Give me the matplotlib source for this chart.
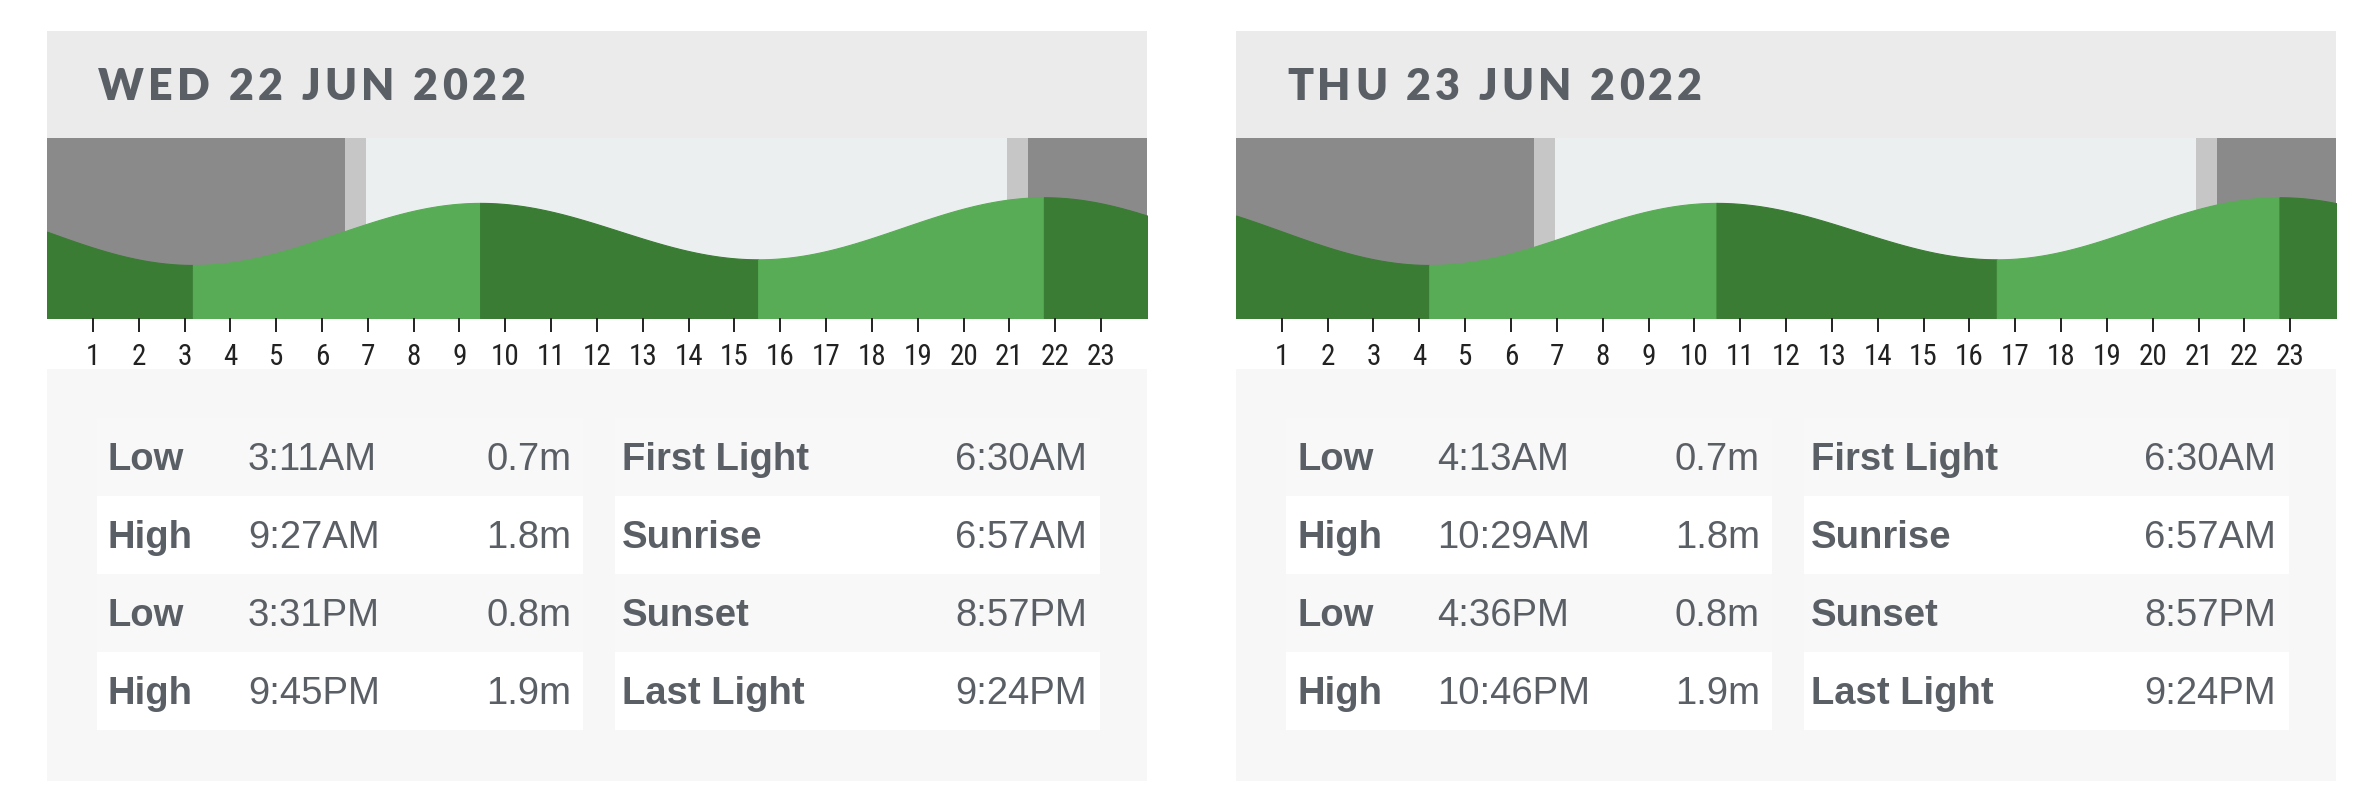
import matplotlib
matplotlib.use("Agg")
import matplotlib.pyplot as plt
from matplotlib.patches import Rectangle
from matplotlib import font_manager
import numpy as np

# -- Donnees ---------------------------------------------------------------

DAYS = ["WED 22 JUN 2022", "THU 23 JUN 2022"]

TIDE_TYPES = ["Low", "High", "Low", "High"]
TIDE_TIMES = [
    ["3:11AM", "9:27AM", "3:31PM", "9:45PM"],
    ["4:13AM", "10:29AM", "4:36PM", "10:46PM"],
]
TIDE_HEIGHTS = [
    [0.7, 1.8, 0.8, 1.9],
    [0.7, 1.8, 0.8, 1.9],
]

# marees hors cadre (estimees) : derniere pleine mer de la veille, premiere basse mer du lendemain
PREV_HIGH_TIME = "8:45PM"
PREV_HIGH_HEIGHT = 1.9
NEXT_LOW_TIME = "5:15AM"
NEXT_LOW_HEIGHT = 0.7

SUN_LABELS = ["First Light", "Sunrise", "Sunset", "Last Light"]
SUN_TIMES = [
    ["6:30AM", "6:57AM", "8:57PM", "9:24PM"],
    ["6:30AM", "6:57AM", "8:57PM", "9:24PM"],
]

HOURS = list(range(1, 24))

# -- Couleurs / mise en page ------------------------------------------------

C_HEADER = "#ebebeb"
C_TABLE_BG = "#f7f7f7"
C_ROW_ALT = "#ffffff"
C_NIGHT = "#8a8a8a"
C_TWILIGHT = "#c6c6c6"
C_DAY = "#eceff0"
C_RISING = "#58ac55"
C_FALLING = "#3a7c34"
C_TEXT = "#5a5f66"
C_TICK = "#222222"

W, H = 2367, 810
PANEL_X = [47, 1236]
PANEL_W = 1100
TITLE_W = [428, 415]


def to_hours(s):
    t, ampm = s[:-2], s[-2:]
    h, m = [int(v) for v in t.split(":")]
    if ampm == "PM" and h != 12:
        h += 12
    if ampm == "AM" and h == 12:
        h = 0
    return h + m / 60.0


def tide_between(t0, t1, h0, h1, x):
    # interpolation en cosinus entre deux extremes
    f = (x - t0) / (t1 - t0)
    return (h0 + h1) / 2 + (h0 - h1) / 2 * np.cos(np.pi * f)


def weight_num(w):
    if isinstance(w, (int, float)):
        return w
    return {"bold": 700, "heavy": 800, "black": 900, "extra bold": 800,
            "semibold": 600, "demibold": 600}.get(str(w).lower(), 400)


fonts = font_manager.fontManager.ttflist
names = {f.name for f in fonts}
bold_names = {f.name for f in fonts if weight_num(f.weight) >= 700}

tick_family = "Liberation Sans"
for cand in ["Liberation Sans Narrow", "DejaVu Sans Condensed", "Roboto Condensed"]:
    if cand in names:
        tick_family = cand
        break
title_family = "DejaVu Sans"
for cand in ["Montserrat", "Lato", "Open Sans"]:
    if cand in bold_names:
        title_family = cand
        break
table_family = "Liberation Sans"

fig = plt.figure(figsize=(W / 100, H / 100), dpi=100)
fig.patch.set_facecolor("white")
bg = fig.add_axes([0, 0, 1, 1])
bg.set_xlim(0, W)
bg.set_ylim(H, 0)
bg.axis("off")
renderer = fig.canvas.get_renderer()


def rect(x0, y0, w, h, color):
    bg.add_patch(Rectangle((x0, y0), w, h, facecolor=color, edgecolor="none"))


def text_width(s, **kw):
    t = bg.text(0, 0, s, **kw)
    w = t.get_window_extent(renderer).width
    t.remove()
    return w


def tracked_text(x, y, s, target_w, **kw):
    # texte avec espacement des lettres (comme letter-spacing en CSS)
    full = text_width(s, **kw)
    sp = (target_w - full) / (len(s) - 1)
    ref = text_width("H", **kw)
    for i, ch in enumerate(s):
        off = text_width(s[:i] + "H", **kw) - ref if i > 0 else 0
        bg.text(x + off + i * sp, y, ch, ha="left", va="baseline", **kw)


for d in range(len(DAYS)):
    px = PANEL_X[d]

    # entete + titre
    rect(px, 31, PANEL_W, 107, C_HEADER)
    tracked_text(px + 51, 100, DAYS[d], TITLE_W[d], family=title_family,
                 fontweight="heavy", fontsize=31, color=C_TEXT)

    # fond du tableau
    rect(px, 369, PANEL_W, 412, C_TABLE_BG)

    # -- graphe de maree
    ax = fig.add_axes([px / W, 1 - 318 / H, PANEL_W / W, 180 / H])
    ax.set_xlim(0, 24)
    ax.set_ylim(-0.24, 2.95)

    sun = [to_hours(s) for s in SUN_TIMES[d]]
    ax.axvspan(0, sun[0], color=C_NIGHT, lw=0)
    ax.axvspan(sun[0], sun[1], color=C_TWILIGHT, lw=0)
    ax.axvspan(sun[1], sun[2], color=C_DAY, lw=0)
    ax.axvspan(sun[2], sun[3], color=C_TWILIGHT, lw=0)
    ax.axvspan(sun[3], 24, color=C_NIGHT, lw=0)

    times = [to_hours(s) for s in TIDE_TIMES[d]]
    heights = list(TIDE_HEIGHTS[d])
    if d == 0:
        times = [to_hours(PREV_HIGH_TIME) - 24] + times
        heights = [PREV_HIGH_HEIGHT] + heights
    else:
        times = [to_hours(TIDE_TIMES[0][-1]) - 24] + times
        heights = [TIDE_HEIGHTS[0][-1]] + heights
    if d == len(DAYS) - 1:
        times = times + [to_hours(NEXT_LOW_TIME) + 24]
        heights = heights + [NEXT_LOW_HEIGHT]
    else:
        times = times + [to_hours(TIDE_TIMES[d + 1][0]) + 24]
        heights = heights + [TIDE_HEIGHTS[d + 1][0]]

    for i in range(len(times) - 1):
        t0, t1 = times[i], times[i + 1]
        a, b = max(t0, 0), min(t1, 24)
        if a >= b:
            continue
        col = C_FALLING if heights[i] > heights[i + 1] else C_RISING
        xs = np.linspace(a, b, 300)
        ys = tide_between(t0, t1, heights[i], heights[i + 1], xs)
        ax.fill_between(xs, -0.24, ys, facecolor=col, edgecolor=col, lw=0.8)

    for s in ax.spines.values():
        s.set_visible(False)
    ax.set_yticks([])
    ax.set_xticks(HOURS)
    ax.set_xticklabels([str(h) for h in HOURS], family=tick_family,
                       fontsize=21, color=C_TICK)
    ax.tick_params(axis="x", direction="out", length=10, width=1.4,
                   color=C_TICK, pad=8)

    # -- tableau marees / soleil
    for r in range(4):
        top = 418 + 78 * r
        row_col = C_ROW_ALT if r % 2 == 1 else "#f8f8f8"
        rect(px + 50, top, 486, 78, row_col)
        rect(px + 568, top, 485, 78, row_col)
        base = top + 52
        kw = dict(family=table_family, fontsize=27.5, color=C_TEXT, va="baseline")
        bg.text(px + 61, base, TIDE_TYPES[r], fontweight="bold", ha="left", **kw)
        bg.text(px + 201, base, TIDE_TIMES[d][r], ha="left", **kw)
        bg.text(px + 524, base, f"{TIDE_HEIGHTS[d][r]:.1f}m", ha="right", **kw)
        bg.text(px + 575, base, SUN_LABELS[r], fontweight="bold", ha="left", **kw)
        bg.text(px + 1040, base, SUN_TIMES[d][r], ha="right", **kw)

fig.savefig("out.png", dpi=100)
